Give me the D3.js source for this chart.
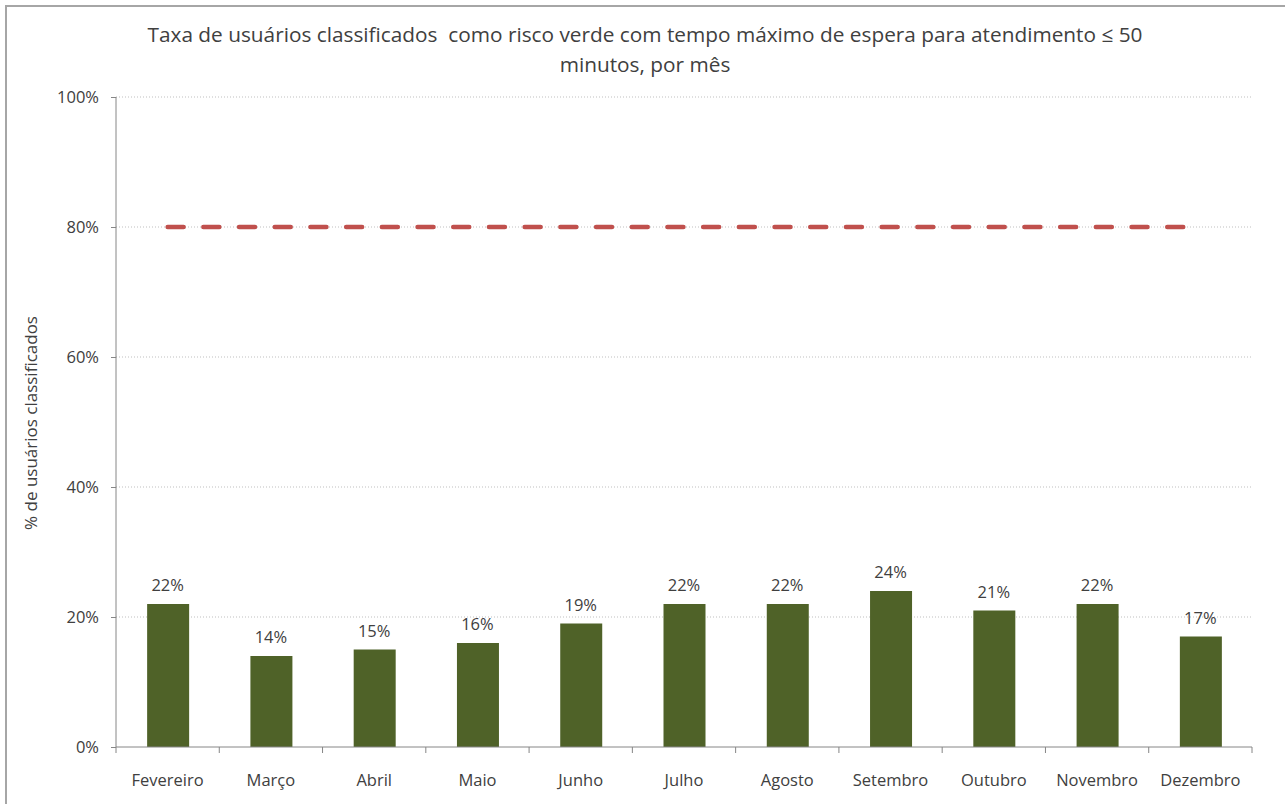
<!DOCTYPE html>
<html>
<head>
<meta charset="utf-8">
<script src="https://cdn.jsdelivr.net/npm/d3@7"></script>
<style>
  body { margin: 0; background: #fff; }
  svg { display: block; font-family: "Open Sans", sans-serif; }
  text { white-space: pre; }
</style>
</head>
<body>
<div id="chart"></div>
<script>
// data
var months = ["Fevereiro", "Março", "Abril", "Maio", "Junho", "Julho", "Agosto", "Setembro", "Outubro", "Novembro", "Dezembro"];
var rates = [22, 14, 15, 16, 19, 22, 22, 24, 21, 22, 17];
var target = [80, 80, 80, 80, 80, 80, 80, 80, 80, 80, 80];
var yTicks = [0, 20, 40, 60, 80, 100];
var titleLines = ["Taxa de usuários classificados  como risco verde com tempo máximo de espera para atendimento ≤ 50", "minutos, por mês"];

var W = 1285, H = 804;
var margin = { top: 97, right: 33, bottom: 57, left: 116 };
var width = W - margin.left - margin.right,
    height = H - margin.top - margin.bottom;

var svg = d3.select("#chart").append("svg")
    .attr("width", W)
    .attr("height", H);

// outer frame
svg.append("rect")
    .attr("x", 6).attr("y", 6)
    .attr("width", W + 10).attr("height", H + 10)
    .attr("fill", "none")
    .attr("stroke", "#a6a6a6")
    .attr("stroke-width", 2);

// title
svg.append("g").selectAll("text")
    .data(titleLines)
    .enter().append("text")
    .attr("x", 645)
    .attr("y", function (d, i) { return 42 + i * 30; })
    .attr("text-anchor", "middle")
    .style("font-size", "20.8px")
    .attr("fill", "#404040")
    .text(function (d) { return d; });

var g = svg.append("g")
    .attr("transform", "translate(" + margin.left + "," + margin.top + ")");

var xOuter = d3.scaleBand().domain(months).range([0, width]);
var y = d3.scaleLinear().domain([0, 100]).range([height, 0]);

// gridlines
g.append("g").selectAll("line")
    .data(yTicks.slice(1))
    .enter().append("line")
    .attr("x1", 0).attr("x2", width)
    .attr("y1", function (d) { return y(d); })
    .attr("y2", function (d) { return y(d); })
    .attr("stroke", "#bfbfbf")
    .attr("stroke-dasharray", "1,2");

// bars
g.append("g").selectAll("rect")
    .data(rates)
    .enter().append("rect")
    .attr("x", function (d, i) { return xOuter(months[i]) + xOuter.bandwidth() / 2 - 20.5; })
    .attr("width", 42)
    .attr("y", function (d) { return y(d); })
    .attr("height", function (d) { return height - y(d); })
    .attr("fill", "#4f6228");

// value labels
g.append("g").selectAll("text")
    .data(rates)
    .enter().append("text")
    .attr("x", function (d, i) { return xOuter(months[i]) + xOuter.bandwidth() / 2; })
    .attr("y", function (d) { return y(d) - 13; })
    .attr("text-anchor", "middle")
    .style("font-size", "16.5px")
    .attr("fill", "#404040")
    .text(function (d) { return d + "%"; });

// target line
var line = d3.line()
    .x(function (d, i) { return xOuter(months[i]) + xOuter.bandwidth() / 2; })
    .y(function (d) { return y(d); });

g.append("path")
    .attr("d", line(target))
    .attr("fill", "none")
    .attr("stroke", "#c0504d")
    .attr("stroke-width", 4.5)
    .attr("stroke-linecap", "round")
    .attr("stroke-dasharray", "16,19.7");

// y axis
var yAxis = d3.axisLeft(y)
    .tickValues(yTicks)
    .tickSize(5)
    .tickPadding(12)
    .tickFormat(function (d) { return d + "%"; });

var ya = g.append("g").call(yAxis);
ya.select(".domain").attr("stroke", "#868686").attr("d", "M0,0V" + height);
ya.selectAll(".tick line").attr("stroke", "#868686");
ya.selectAll("text").style("font-size", "16.5px").attr("fill", "#404040")
    .style("font-family", "'Open Sans', sans-serif");

// x axis
var xa = g.append("g").attr("transform", "translate(0," + height + ")");
xa.append("line")
    .attr("x1", 0).attr("x2", width)
    .attr("stroke", "#868686");
xa.selectAll(".sep")
    .data(months.concat(["end"]))
    .enter().append("line")
    .attr("class", "sep")
    .attr("x1", function (d, i) { return i * xOuter.step(); })
    .attr("x2", function (d, i) { return i * xOuter.step(); })
    .attr("y1", 0).attr("y2", 6)
    .attr("stroke", "#868686");
xa.selectAll(".lbl")
    .data(months)
    .enter().append("text")
    .attr("class", "lbl")
    .attr("x", function (d) { return xOuter(d) + xOuter.bandwidth() / 2; })
    .attr("y", 39)
    .attr("text-anchor", "middle")
    .style("font-size", "16.5px")
    .attr("fill", "#404040")
    .text(function (d) { return d; });

// y axis title
svg.append("text")
    .attr("transform", "translate(37," + (margin.top + height / 2 + 1) + ") rotate(-90)")
    .attr("text-anchor", "middle")
    .style("font-size", "17px")
    .attr("fill", "#404040")
    .text("% de usuários classificados");
</script>
</body>
</html>
